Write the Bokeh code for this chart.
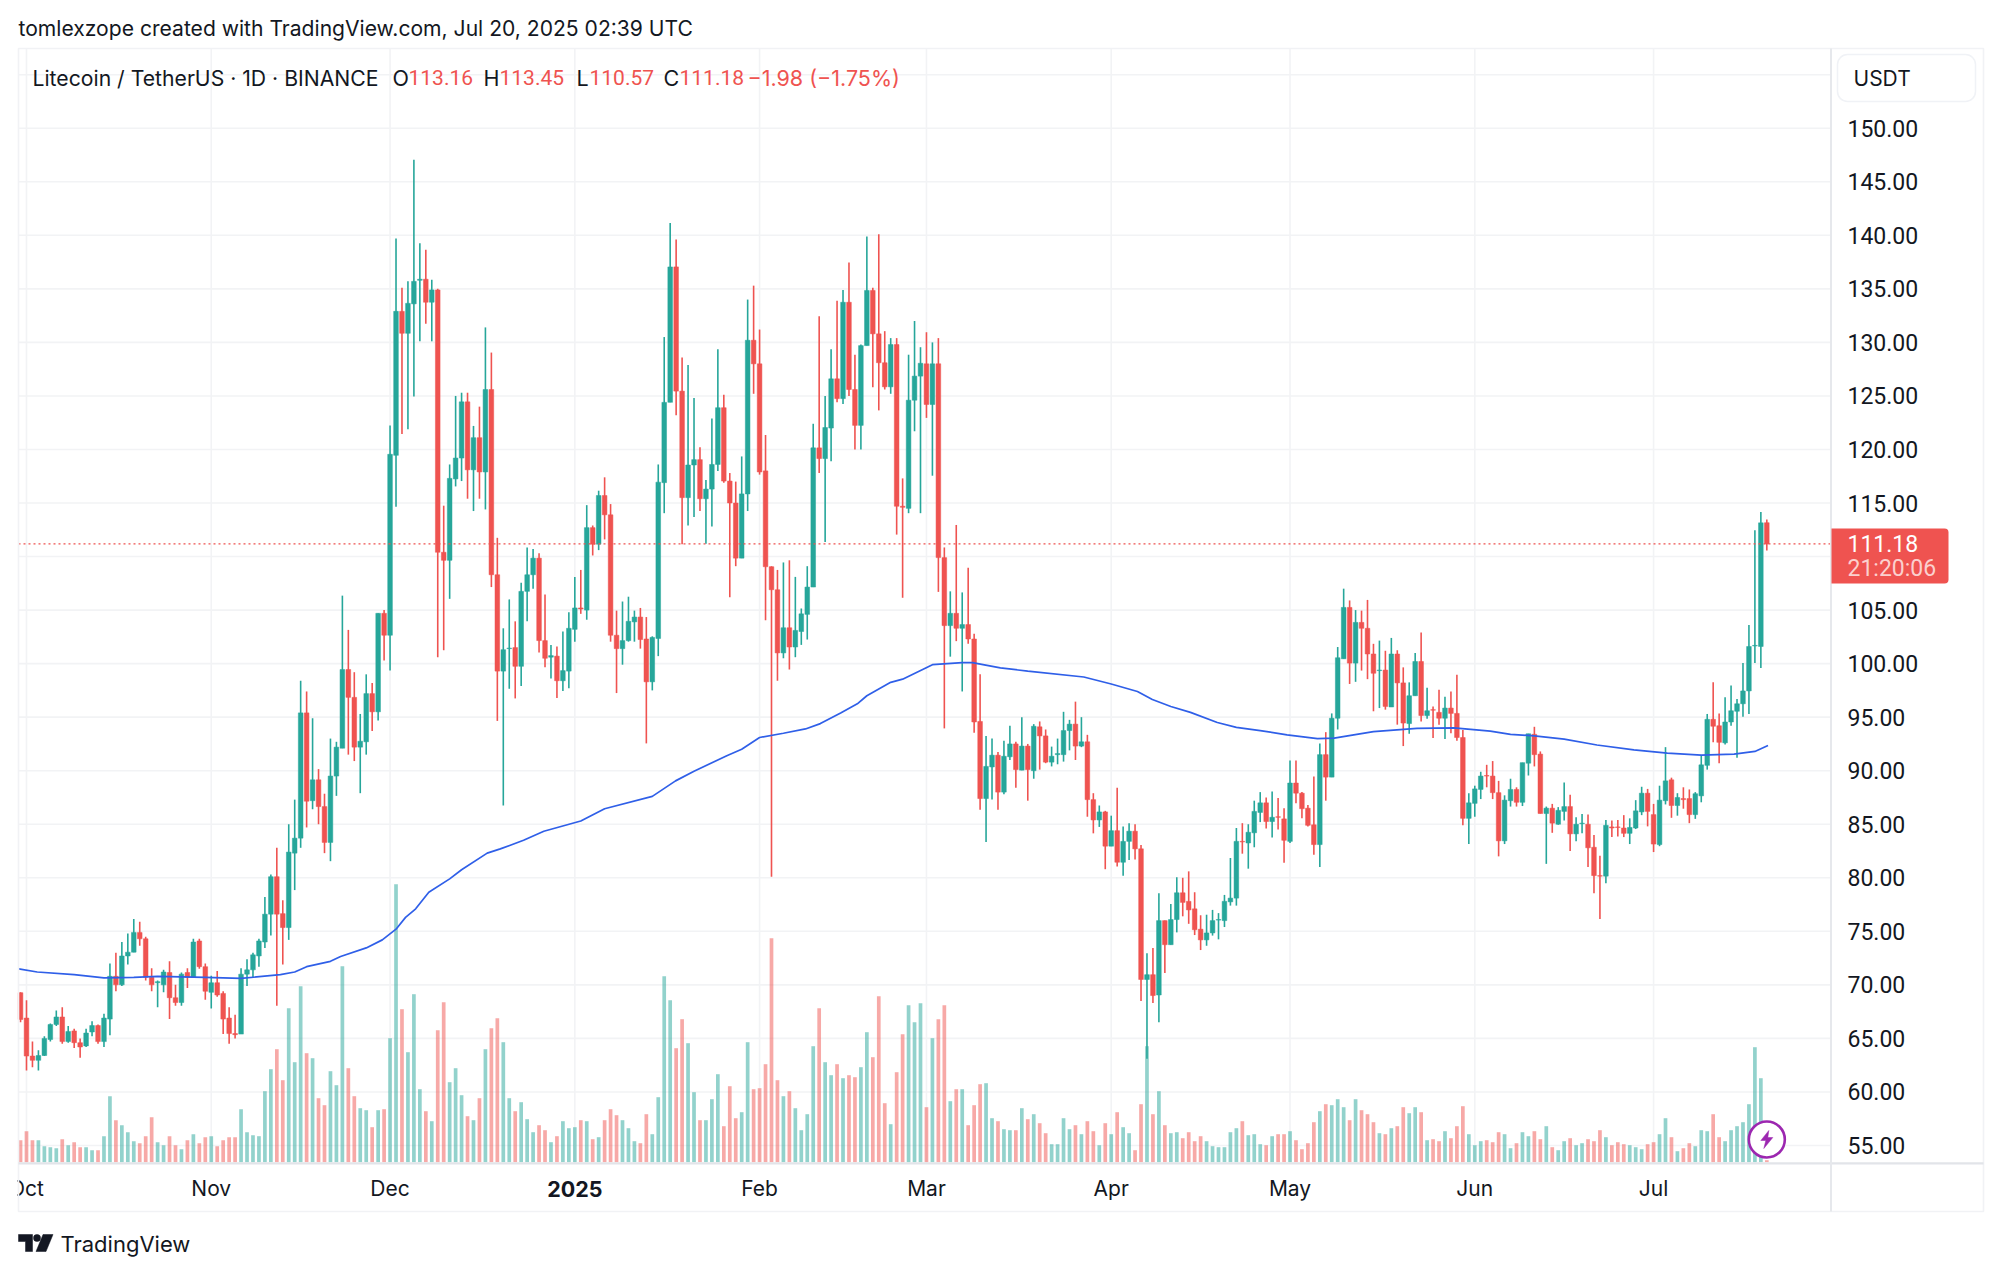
from bokeh.plotting import figure
from bokeh.models import Range1d, FixedTicker, ColumnDataSource, NumeralTickFormatter
from bokeh.core.properties import value
from bokeh.embed import file_html
from bokeh.resources import INLINE

# ---- data (day offset from 2024-10-01) ----
days = list(range(-1, 293))
opens = [
69.27,66.9,63.35,62.95,63.4,64.9,66.3,67.0,64.7,65.7,
64.6,64.3,65.6,66.2,64.7,66.8,70.8,70.0,72.7,73.05,
74.9,74.3,70.7,70.2,70.0,71.15,68.8,68.35,71.15,70.7,
74.1,71.7,69.3,70.2,69.2,66.9,65.45,65.4,71.0,71.4,
72.7,74.0,76.6,80.1,76.65,75.35,82.3,83.7,95.4,87.2,
89.15,86.65,83.3,89.5,92.1,99.45,96.85,92.2,92.7,97.2,
95.5,104.7,102.65,119.45,132.9,130.85,133.6,135.8,135.9,133.75,
134.9,110.4,109.65,117.25,119.2,124.45,118.1,121.1,117.9,125.6,
108.3,99.3,101.4,101.5,99.75,106.75,108.3,109.85,102.15,100.6,
100.7,98.4,99.3,103.2,105.2,105.0,112.7,111.15,115.7,113.9,
102.65,101.4,102.15,103.9,104.35,102.3,98.3,102.35,116.9,124.4,
137.05,125.45,115.5,118.55,119.05,115.4,116.3,118.6,123.9,117.05,
115.0,109.85,115.85,130.2,128.0,118.0,109.05,106.9,101.0,103.35,
101.55,103.0,104.6,107.15,120.15,119.15,122.0,126.6,124.75,133.75,
125.6,122.25,129.7,134.85,130.8,128.1,125.85,129.8,114.7,114.5,
124.6,126.85,128.0,124.2,128.0,109.9,103.55,104.7,103.3,103.65,
102.3,94.6,87.4,90.35,91.45,88.0,91.3,92.5,90.05,92.3,
90.0,94.1,93.25,90.8,91.5,91.5,93.75,94.35,92.3,92.7,
87.3,85.4,86.15,82.95,84.4,81.45,83.4,84.35,82.7,70.5,
70.95,69.05,76.0,73.75,76.1,78.6,77.8,77.1,75.2,74.2,
74.85,76.05,76.0,77.75,78.1,83.4,83.25,84.2,86.1,87.0,
85.25,85.7,85.5,83.4,88.85,87.9,86.5,84.95,83.1,91.5,
89.4,94.9,100.45,105.25,100.05,103.85,103.3,100.9,99.35,99.4,
95.95,100.9,98.2,94.4,97.0,100.2,95.15,95.7,95.45,94.9,
95.85,95.35,93.1,85.55,86.95,88.25,89.55,89.5,87.95,83.45,
87.2,88.25,87.05,90.7,93.4,91.55,86.0,86.5,85.0,86.2,
86.65,84.1,85.05,85.0,82.85,80.2,80.15,84.75,84.75,84.65,
84.15,84.65,86.15,87.9,85.9,83.1,87.2,89.15,86.75,87.4,
87.4,85.9,87.65,90.5,94.8,94.2,92.6,94.55,95.55,96.25,
97.45,101.65,101.6,113.16]
highs = [
69.3,68.56,64.7,63.9,65.2,66.4,67.6,67.9,66.15,65.9,
65.0,65.9,66.6,66.3,67.3,72.0,73.0,74.0,74.8,76.15,
75.9,74.5,71.55,70.4,71.4,72.2,70.0,71.15,71.55,74.3,
74.3,72.0,70.85,71.3,69.4,67.9,67.2,71.55,72.4,73.0,
74.3,78.2,80.3,82.8,77.9,85.0,87.3,98.4,97.4,94.9,
90.15,87.85,93.0,92.7,106.35,103.15,99.2,95.3,99.0,98.2,
104.7,105.0,122.25,139.7,135.1,135.7,147.05,139.25,138.65,135.85,
135.0,114.75,118.6,125.0,125.3,125.3,122.2,124.0,131.4,129.05,
111.75,103.3,106.0,103.95,107.55,110.85,110.7,110.3,106.45,101.75,
101.6,103.0,104.8,108.1,108.75,114.8,112.9,116.15,117.4,114.9,
104.95,105.8,106.25,104.95,105.2,104.35,102.55,118.6,130.5,141.15,
139.6,128.6,127.9,124.8,120.2,117.15,122.9,129.35,125.1,117.8,
117.0,119.35,134.0,135.3,131.2,121.35,109.1,108.75,109.45,109.65,
108.1,105.15,109.1,122.4,132.45,125.0,129.35,133.9,134.9,137.45,
128.85,129.8,139.9,135.1,140.1,131.05,130.4,130.4,117.3,128.85,
132.0,129.55,130.95,130.0,130.4,110.85,106.75,112.95,106.65,108.95,
102.8,99.0,93.25,93.0,91.75,92.8,94.2,92.7,95.0,92.5,
94.35,94.6,93.85,92.25,93.0,95.5,94.75,96.45,95.0,93.35,
87.9,86.75,86.25,85.8,88.4,84.8,85.1,85.0,83.05,72.95,
73.45,78.55,76.0,77.55,80.05,80.0,80.6,78.65,76.5,76.55,
77.0,76.7,78.4,81.85,84.65,85.1,85.0,87.2,88.0,87.5,
88.05,87.45,86.5,90.95,90.95,88.0,86.8,89.45,92.55,93.6,
95.35,101.55,107.0,105.9,105.0,104.95,105.95,101.85,102.15,101.2,
102.4,101.25,99.65,98.25,101.0,102.9,97.75,96.0,97.55,96.9,
97.4,98.95,93.8,87.9,88.6,89.9,90.55,90.9,89.05,87.7,
89.25,88.45,90.75,93.45,94.1,91.8,86.65,86.9,86.6,88.9,
87.75,85.65,85.95,85.9,84.0,82.05,85.4,85.35,85.4,85.85,
85.55,87.25,88.5,88.3,86.9,88.6,92.2,89.35,87.9,88.45,
88.25,88.0,91.4,95.3,98.25,95.35,96.85,97.95,96.7,100.05,
103.6,112.45,114.15,113.45]
lows = [
66.5,62.0,62.3,62.0,63.35,64.7,66.15,64.5,64.6,64.1,
63.2,64.2,65.2,64.5,64.2,65.3,69.4,69.9,71.9,73.05,
73.65,70.4,69.4,67.9,69.3,66.8,68.05,68.05,69.7,70.7,
71.5,68.6,67.8,68.9,65.4,64.5,65.0,65.4,69.9,70.7,
71.7,73.45,74.6,68.05,71.9,74.2,78.85,82.8,84.7,86.4,
85.0,82.3,81.55,87.65,92.1,91.5,90.9,87.9,91.5,93.7,
94.7,100.3,99.35,114.65,121.45,121.9,124.95,130.1,131.75,130.1,
100.6,101.25,106.05,116.55,117.05,115.4,114.25,115.4,114.4,107.15,
94.65,86.75,97.65,96.75,97.9,103.95,107.0,101.05,99.65,98.6,
96.8,97.45,97.7,102.05,104.65,104.1,110.1,110.6,111.6,102.05,
97.25,99.9,102.05,102.05,101.4,92.55,97.5,100.7,114.05,124.4,
123.2,111.15,112.9,113.7,114.25,111.2,112.8,118.0,116.9,106.2,
109.1,109.85,114.25,125.2,117.65,104.05,80.1,98.4,100.5,99.45,
100.6,101.75,102.25,107.15,117.8,111.35,118.9,124.4,124.25,125.0,
120.0,120.0,129.7,125.8,123.65,125.6,125.2,112.05,106.15,114.05,
121.7,114.05,122.95,117.55,106.7,93.95,100.65,102.1,97.4,101.85,
93.55,86.35,83.35,87.3,86.35,87.8,91.0,88.4,90.05,87.2,
89.25,90.1,90.7,90.4,90.6,90.85,91.9,91.0,92.2,85.7,
84.15,84.75,80.8,82.95,81.05,80.2,81.65,81.7,68.5,63.1,
68.3,66.5,71.1,73.75,74.9,76.4,75.7,74.65,73.25,73.65,
74.6,74.25,75.4,77.4,77.4,82.25,80.85,82.85,85.2,84.6,
83.75,84.5,81.4,83.25,86.95,85.55,84.8,82.15,81.0,87.2,
89.4,93.85,100.45,98.1,98.3,99.35,98.55,95.55,95.85,95.7,
95.95,94.3,92.3,93.45,97.0,94.6,94.85,93.05,94.3,92.95,
93.5,92.8,84.9,83.15,85.7,87.35,88.45,87.35,82.0,83.15,
86.65,86.65,86.7,89.55,90.4,86.0,81.3,84.2,84.95,85.35,
82.5,83.4,84.15,81.0,78.55,76.15,79.5,83.8,83.85,83.8,
83.15,84.55,85.85,84.8,82.4,82.95,86.85,85.6,85.8,86.45,
85.1,85.5,87.05,90.1,92.65,90.7,92.45,94.2,91.2,95.05,
95.3,100.05,99.6,110.57]
closes = [
66.77,63.35,62.95,63.4,65.0,66.3,67.0,64.7,65.65,64.6,
64.2,65.5,66.2,64.7,66.9,70.8,70.0,72.7,73.05,74.9,
74.3,70.7,70.0,70.3,71.2,68.8,68.35,71.0,70.7,74.0,
71.7,69.4,70.2,69.05,66.8,65.45,65.35,71.0,71.4,72.8,
74.1,76.6,80.1,76.6,75.35,82.4,83.7,95.4,87.15,89.15,
86.65,83.3,89.5,92.2,99.45,96.85,92.2,92.75,97.2,95.5,
104.7,102.65,119.55,132.9,130.85,133.65,135.7,135.9,133.75,134.9,
110.4,109.65,117.3,119.2,124.45,118.1,121.1,117.9,125.6,108.3,
99.3,101.3,101.45,99.75,106.75,108.3,109.85,102.15,100.5,100.75,
98.4,99.35,103.3,105.2,105.1,112.7,111.15,115.7,113.9,102.65,
101.4,102.15,103.95,104.35,102.25,98.3,102.45,116.95,124.4,137.05,
125.45,115.5,118.55,119.05,115.4,116.3,118.6,123.9,117.05,115.0,
109.85,115.85,130.2,128.0,117.9,109.05,106.9,101.0,103.35,101.55,
103.1,104.65,107.15,120.15,119.15,122.05,126.6,124.75,133.75,125.6,
122.25,129.7,134.85,130.8,128.1,125.85,129.8,114.7,114.6,124.6,
126.85,128.05,124.2,128.0,109.9,103.55,104.7,103.3,103.65,102.3,
94.55,87.4,90.4,91.45,88.0,91.35,92.5,90.1,92.3,90.1,
94.15,93.25,90.8,91.35,91.6,93.75,94.35,92.3,92.7,87.3,
85.4,86.15,82.95,84.4,81.45,83.4,84.35,82.7,70.5,70.95,
69.0,76.0,73.75,76.1,78.6,77.7,77.0,75.15,74.2,74.85,
76.0,76.1,77.8,78.1,83.4,83.35,84.25,86.2,87.0,85.25,
85.65,85.65,83.5,88.85,87.9,86.45,84.9,83.1,91.5,89.4,
94.9,100.55,105.25,100.05,103.85,103.3,100.9,99.1,99.4,96.0,
100.9,98.2,94.45,97.0,100.2,95.15,95.6,95.65,94.9,95.85,
95.35,93.1,85.55,87.0,88.3,89.5,89.5,87.95,83.45,87.25,
88.25,87.05,90.75,93.45,91.5,86.0,86.5,85.1,86.3,86.65,
84.1,85.0,85.1,82.8,80.2,80.15,84.9,84.65,84.7,84.15,
84.7,86.25,87.9,86.2,83.15,87.25,89.05,86.75,87.5,87.3,
85.9,87.85,90.55,94.8,94.15,92.65,94.55,95.6,96.25,97.45,
101.6,101.7,113.15,111.18]
volumes = [
22,31,22,22,16,15,14,23,17,20,
15,15,12,12,26,66,42,37,30,21,
19,26,45,20,17,26,17,13,22,28,
19,25,26,16,22,25,25,53,30,27,
26,71,93,113,82,154,100,176,109,104,
64,57,91,77,196,94,66,54,52,35,
52,53,124,278,153,110,168,73,51,41,
132,160,80,94,67,46,42,64,113,134,
144,120,64,51,60,43,30,37,32,20,
26,41,34,35,42,41,23,25,42,53,
47,42,34,21,19,48,28,65,186,162,
114,143,119,70,42,42,63,88,36,76,
44,50,120,73,74,98,224,82,66,71,
54,32,48,116,154,100,87,98,84,87,
85,95,130,105,166,59,38,90,128,157,
140,159,55,124,143,157,61,73,73,37,
57,78,79,44,41,33,32,32,54,43,
48,39,29,18,18,44,33,37,28,41,
31,17,39,28,50,35,29,12,58,116,
48,71,37,29,30,24,30,21,26,21,
16,15,15,30,34,41,27,28,18,17,
26,28,28,31,22,13,19,40,51,58,
57,63,55,42,63,52,48,40,29,28,
34,36,55,49,55,50,22,23,21,31,
24,36,56,28,17,21,22,20,30,28,
14,19,30,26,31,23,36,15,12,21,
24,17,19,23,21,32,25,17,20,18,
17,15,13,18,20,28,44,25,11,14,
19,16,32,31,48,25,21,32,36,40,
58,115,84,2]
ma_days = [-1.3,1.8,8,13,18,22,30,36,42.6,45,47,51,52.7,57,59.7,62,63.6,65.3,67.5,71,73,77.3,79.5,
           83.4,86.8,93,97,105,108.9,112,117.5,120,123,127,130.7,133.2,136.6,139.4,141,145,147,152,157,158.7,
           163.4,168,177.4,182,186.4,188.9,192,195.3,199.8,203,207,211.5,216.6,219.4,226,233.3,239.5,245.6,
           249,253,258,263.5,269.7,275.3,281,286.5,290,292.2]
ma_values = [71.5,71.2,70.95,70.65,70.7,70.8,70.7,70.6,70.95,71.2,71.7,72.2,72.65,73.45,74.2,75.2,76.3,77.1,78.65,79.9,80.75,82.3,82.7,
             83.5,84.35,85.3,86.45,87.6,89.05,89.95,91.4,92.0,93.1,93.5,93.9,94.4,95.4,96.25,97.0,98.25,98.55,99.9,100.1,100.1,
             99.6,99.3,98.75,98.1,97.4,96.65,96.0,95.45,94.5,94.05,93.75,93.35,93.0,93.05,93.65,93.95,94.0,93.7,
             93.4,93.25,92.95,92.4,91.95,91.65,91.45,91.55,91.8,92.35]
month_days = [0, 31, 61, 92, 123, 151, 182, 212, 243, 273]
month_labels = ["Oct", "Nov", "Dec", " ", "Feb", "Mar", "Apr", "May", "Jun", "Jul"]
price_ticks = [55,60,65,70,75,80,85,90,95,100,105,115,120,125,130,135,140,145,150]
price_grid = [55,60,65,70,75,80,85,90,95,100,105,110,115,120,125,130,135,140,145,150,155]
last_close = 111.18

for seq in (opens, highs, lows, closes, volumes):
    assert len(seq) == len(days), len(seq)

UP, DOWN = "#26a69a", "#ef5350"
FONT = "Inter"
NUMFONT = "Roboto"
INK = "#131722"
PANE_L, PANE_R = -1.342, 302.68      # plotted day span
PANE_B, PANE_T = 53.32, 157.44       # plotted price span
W, H = 1990, 1268

# the frame covers the page, so that the price/time scales and the chrome share it
p = figure(width=W, height=H, output_backend="svg", toolbar_location=None,
           x_range=Range1d(-4.362, 329.53), y_range=Range1d(43.51, 161.93),
           y_axis_location="right", x_axis_location="below",
           min_border=0, background_fill_color="white", border_fill_color="white", outline_line_color=None)
p.extra_y_ranges = {"vol": Range1d(-106.3, 1161.7), "px": Range1d(H, 0)}
p.extra_x_ranges = {"px": Range1d(0, W)}
p.grid.visible = False

xa = p.xaxis[0]
xa.fixed_location = PANE_B
xa.ticker = FixedTicker(ticks=month_days)
xa.major_label_overrides = dict(zip(month_days, month_labels))
xa.major_tick_line_color = None
xa.minor_tick_line_color = None
xa.major_tick_out = 0
xa.axis_line_color = None
xa.major_label_standoff = 13
xa.major_label_text_font = FONT
xa.major_label_text_font_size = "21px"
xa.major_label_text_color = INK

ya = p.yaxis[0]
ya.fixed_location = PANE_R
ya.ticker = FixedTicker(ticks=price_ticks)
ya.formatter = NumeralTickFormatter(format="0.00")
ya.axis_line_color = None
ya.major_tick_line_color = None
ya.minor_tick_line_color = None
ya.major_tick_out = 0
ya.major_label_standoff = 17
ya.major_label_text_font = NUMFONT
ya.major_label_text_font_size = "23px"
ya.major_label_text_color = INK

# grid
p.segment(x0=[PANE_L] * len(price_grid), x1=[PANE_R] * len(price_grid), y0=price_grid, y1=price_grid,
          line_color="#f2f3f5", line_width=1.6)
p.segment(x0=month_days, x1=month_days, y0=[PANE_B] * len(month_days), y1=[PANE_T] * len(month_days),
          line_color="#f2f3f5", line_width=1.6)

colors = [UP if c >= o else DOWN for o, c in zip(opens, closes)]
src = ColumnDataSource(dict(d=days, o=opens, h=highs, l=lows, c=closes, v=volumes, col=colors,
                            top=[max(a, b) for a, b in zip(opens, closes)],
                            bot=[min(a, b) for a, b in zip(opens, closes)]))
p.vbar(x="d", top="v", bottom=0, width=0.62, color="col", line_color=None, fill_alpha=0.5,
       source=src, y_range_name="vol")
p.segment(x0="d", x1="d", y0="l", y1="h", line_color="col", line_width=1.6, source=src)
p.vbar(x="d", top="top", bottom="bot", width=0.78, fill_color="col", line_color="col", line_width=0.5, source=src)
p.line(ma_days, ma_values, line_color="#2f5fe8", line_width=1.7)
p.line([PANE_L, PANE_R], [last_close, last_close], line_color=DOWN, line_width=1.4, line_dash=[2, 3])

# lightning badge on the last bar
p.scatter([292], [22.7], size=36, marker="circle", fill_color="white", line_color="#9c27b0", line_width=2.6, y_range_name="vol")
bolt_x = [292 + v / 5.96 for v in (2, -6, -1, -3, 6, 1)]
bolt_y = [22.7 + v for v in (9, -1, -1, -9, 2, 2)]
p.patch(bolt_x, bolt_y, fill_color="#9c27b0", line_color="#9c27b0", line_width=0.5, y_range_name="vol")

def box(l, r, t, b, **kw):
    p.quad(left=[l], right=[r], top=[t], bottom=[b], x_range_name="px", y_range_name="px", level="annotation", **kw)

def text(x, y, s, color=INK, size="21px", style="normal", align="left", x_name="px", font=FONT):
    p.text([x], [y], [s], x_range_name=x_name, y_range_name="px", level="annotation",
           text_font=value(font), text_font_size=value(size), text_font_style=style, text_color=color,
           text_align=align, text_baseline="middle")

# chrome around the pane
box(0, 17, 1165, 1212, fill_color="white", line_color=None)
box(18, 1983, 48, 1211, fill_color=None, line_color="#f1f2f5", line_width=1.6)
box(18, 1983, 1161.7, 1164, fill_color="#e2e4e9", line_color=None)
box(1829.5, 1831.5, 48, 1211, fill_color="#e6e8ec", line_color=None)
box(1837, 1975, 54, 101, fill_color="white", line_color="#f0f2f6", line_width=1.5, border_radius=10)
box(1831, 1948, 528, 583, fill_color=DOWN, line_color=None, border_radius=(0, 4, 4, 0))

text(18, 28, "tomlexzope created with TradingView.com, Jul 20, 2025 02:39 UTC", size="21.1px")
text(32, 77, "Litecoin / TetherUS \u00b7 1D \u00b7 BINANCE", size="21.2px")
for x0, s, c, fnt, sz in [(392, "O", INK, FONT, "21.5px"), (408, "113.16", DOWN, NUMFONT, "21px"),
                          (483, "H", INK, FONT, "21.5px"), (499, "113.45", DOWN, NUMFONT, "21px"),
                          (576, "L", INK, FONT, "21.5px"), (589, "110.57", DOWN, NUMFONT, "21px"),
                          (663, "C", INK, FONT, "21.5px"), (679, "111.18", DOWN, NUMFONT, "21px"),
                          (747, "\u22121.98 (\u22121.75%)", DOWN, FONT, "21.5px")]:
    text(x0, 77, s, color=c, size=sz, font=fnt)
text(1853, 78, "USDT", size="21px")
text(1847, 543, "111.18", color="white", size="23px", font=NUMFONT)
text(1847, 568, "21:20:06", color="#fbd0ce", size="23px", font=NUMFONT)
text(92, 1188, "2025", size="21.5px", style="bold", align="center", x_name="default")

# wordmark
logo_xs = [[18, 32, 32, 25, 25, 18], [52.5, 45.5, 35.5, 42.5]]
logo_ys = [[1234, 1234, 1251, 1251, 1241, 1241], [1234, 1251, 1251, 1234]]
p.patches(logo_xs, logo_ys, fill_color=INK, line_color=INK, line_width=0.5, x_range_name="px", y_range_name="px")
p.scatter([36.5], [1237.5], size=7.5, marker="circle", fill_color=INK, line_color=None, x_range_name="px", y_range_name="px")
text(60, 1243, "TradingView", size="22px")

open("out.html", "w").write(file_html(p, INLINE))
